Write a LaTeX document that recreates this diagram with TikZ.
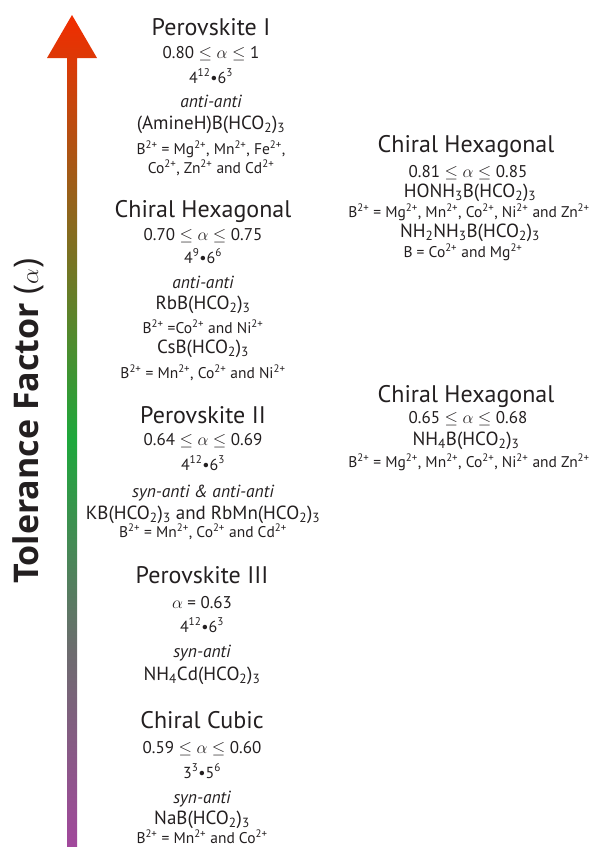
\documentclass[tikz,border=0pt]{standalone}
\usepackage{fontspec}
\setmainfont{PT Sans}
\newfontfamily\axisfont{Open Sans}

\definecolor{txt}{HTML}{231F20}
\definecolor{tred}{HTML}{F22C00}
\definecolor{tgreen}{HTML}{1EA83C}
\definecolor{tgray}{HTML}{6C6C6E}
\definecolor{tpurple}{HTML}{A2489C}

% arrow colour ramp: purple (bottom) -> gray -> green -> red (tip)
\pgfdeclareverticalshading{tolgrad}{100bp}{%
  color(0bp)=(tpurple); color(25bp)=(tpurple);
  color(36.84bp)=(tgray); color(49.46bp)=(tgreen);
  color(75bp)=(tred); color(100bp)=(tred)}

\newcommand{\chg}{\textsuperscript{2+}}
\newcommand{\sbs}[1]{\textsubscript{#1}}
\newcommand{\spr}[1]{\textsuperscript{#1}}
\newcommand{\leqa}{ $\leq$ }

\tikzset{
  lbl/.style={anchor=base, inner sep=0pt, text=txt},
  ttl/.style={lbl, font=\fontsize{24}{24}\selectfont},
  rng/.style={lbl, font=\fontsize{17}{17}\selectfont},
  topo/.style={lbl, font=\fontsize{16}{16}\selectfont},
  mode/.style={lbl, font=\fontsize{17.5}{17.5}\selectfont\itshape},
  frm/.style={lbl, font=\fontsize{19}{19}\selectfont},
  cat/.style={lbl, font=\fontsize{15.5}{15.5}\selectfont},
}

\begin{document}
\begin{tikzpicture}[x=1pt,y=-1pt]
\path[use as bounding box] (0,0) rectangle (598,847);

% axis arrow
\shade[shading=tolgrad] (72,15) -- (97,58) -- (77,58) -- (77,847)
  -- (67,847) -- (67,58) -- (47,58) -- cycle;
\node[rotate=90, anchor=center, inner sep=0pt, text=txt,
      font=\axisfont\fontsize{34}{34}\selectfont] (axis) at (28,421)
  {\textbf{Tolerance Factor} ($\alpha$)};

% Perovskite I
\node[ttl] (p1t) at (211,35) {Perovskite I};
\node[rng] (p1r) at (211,58) {0.80\leqa$\alpha$\leqa1};
\node[topo] (p1o) at (211,83) {4\spr{12}\textbullet6\spr{3}};
\node[mode] (p1m) at (211,107) {anti-anti};
\node[frm] (p1f) at (211,129) {(AmineH)B(HCO\sbs{2})\sbs{3}};
\node[cat] (p1c) at (211,154) {B\chg{} = Mg\chg, Mn\chg, Fe\chg,};
\node[cat] (p1d) at (211,173) {Co\chg, Zn\chg{} and Cd\chg};

% Chiral Hexagonal (left)
\node[ttl] (h1t) at (203,217) {Chiral Hexagonal};
\node[rng] (h1r) at (203,240) {0.70\leqa$\alpha$\leqa0.75};
\node[topo] (h1o) at (203,263) {4\spr{9}\textbullet6\spr{6}};
\node[mode] (h1m) at (203,288) {anti-anti};
\node[frm] (h1f) at (203,309) {RbB(HCO\sbs{2})\sbs{3}};
\node[cat] (h1c) at (203,333) {B\chg{} =Co\chg{} and Ni\chg};
\node[frm] (h1g) at (203,353) {CsB(HCO\sbs{2})\sbs{3}};
\node[cat] (h1d) at (203,378) {B\chg{} = Mn\chg, Co\chg{} and Ni\chg};

% Chiral Hexagonal (right, upper)
\node[ttl] (h2t) at (466,152) {Chiral Hexagonal};
\node[rng] (h2r) at (468,177) {0.81\leqa$\alpha$\leqa0.85};
\node[frm] (h2f) at (470,197) {HONH\sbs{3}B(HCO\sbs{2})\sbs{3}};
\node[cat] (h2c) at (469,217) {B\chg{} = Mg\chg, Mn\chg, Co\chg, Ni\chg{} and Zn\chg};
\node[frm] (h2g) at (470,237) {NH\sbs{2}NH\sbs{3}B(HCO\sbs{2})\sbs{3}};
\node[cat] (h2d) at (463,257) {B = Co\chg{} and Mg\chg};

% Chiral Hexagonal (right, lower)
\node[ttl] (h3t) at (466,402) {Chiral Hexagonal};
\node[rng] (h3r) at (468,423) {0.65\leqa$\alpha$\leqa0.68};
\node[frm] (h3f) at (466,445) {NH\sbs{4}B(HCO\sbs{2})\sbs{3}};
\node[cat] (h3c) at (469,467) {B\chg{} = Mg\chg, Mn\chg, Co\chg, Ni\chg{} and Zn\chg};

% Perovskite II
\node[ttl] (p2t) at (203,423) {Perovskite II};
\node[rng] (p2r) at (203,445) {0.64\leqa$\alpha$\leqa0.69};
\node[topo] (p2o) at (203,470) {4\spr{12}\textbullet6\spr{3}};
\node[mode] (p2m) at (203,497) {syn-anti \& anti-anti};
\node[frm] (p2f) at (203,519) {KB(HCO\sbs{2})\sbs{3} and RbMn(HCO\sbs{2})\sbs{3}};
\node[cat] (p2c) at (203,537) {B\chg{} = Mn\chg, Co\chg{} and Cd\chg};

% Perovskite III
\node[ttl] (p3t) at (202,583) {Perovskite III};
\node[rng] (p3r) at (202,608) {$\alpha$ = 0.63};
\node[topo] (p3o) at (202,632) {4\spr{12}\textbullet6\spr{3}};
\node[mode] (p3m) at (202,657) {syn-anti};
\node[frm] (p3f) at (202,680) {NH\sbs{4}Cd(HCO\sbs{2})\sbs{3}};

% Chiral Cubic
\node[ttl] (cct) at (202,728) {Chiral Cubic};
\node[rng] (ccr) at (202,753) {0.59\leqa$\alpha$\leqa0.60};
\node[topo] (cco) at (202,778) {3\spr{3}\textbullet5\spr{6}};
\node[mode] (ccm) at (202,803) {syn-anti};
\node[frm] (ccf) at (202,824) {NaB(HCO\sbs{2})\sbs{3}};
\node[cat] (ccc) at (202,843) {B\chg{} = Mn\chg{} and Co\chg};
\end{tikzpicture}
\end{document}
